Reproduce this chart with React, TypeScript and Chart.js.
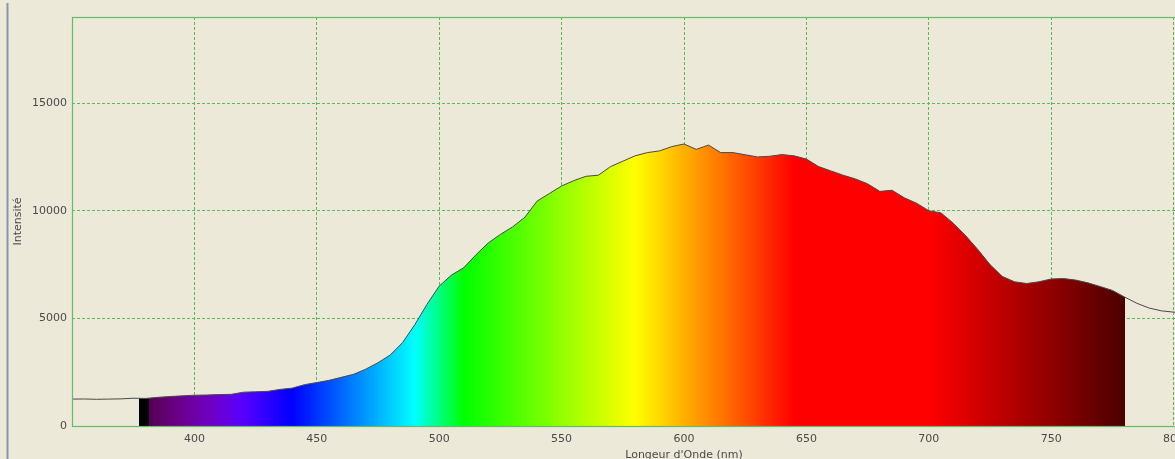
import React, { useEffect, useRef } from 'react';
import { Chart, registerables } from 'chart.js';

Chart.register(...registerables);

// ---- data ----
const WAVELENGTHS = [
  350, 355, 360, 365, 370, 375, 380, 385, 390, 395,
  400, 405, 410, 415, 420, 425, 430, 435, 440, 445,
  450, 455, 460, 465, 470, 475, 480, 485, 490, 495,
  500, 505, 510, 515, 520, 525, 530, 535, 540, 545,
  550, 555, 560, 565, 570, 575, 580, 585, 590, 595,
  600, 605, 610, 615, 620, 625, 630, 635, 640, 645,
  650, 655, 660, 665, 670, 675, 680, 685, 690, 695,
  700, 705, 710, 715, 720, 725, 730, 735, 740, 745,
  750, 755, 760, 765, 770, 775, 780, 785, 790, 795,
  800, 805,
];
const INTENSITY = [
  1250, 1255, 1240, 1250, 1260, 1290, 1280, 1330, 1370, 1400,
  1430, 1440, 1460, 1470, 1570, 1590, 1610, 1700, 1760, 1920,
  2020, 2120, 2260, 2400, 2640, 2940, 3300, 3870, 4700, 5650,
  6500, 7010, 7350, 7950, 8500, 8900, 9250, 9700, 10450, 10800,
  11150, 11400, 11600, 11650, 12050, 12300, 12550, 12700, 12780, 12980,
  13100, 12850, 13050, 12700, 12700, 12600, 12500, 12530, 12610, 12550,
  12400, 12050, 11850, 11650, 11480, 11250, 10900, 10950, 10600, 10350,
  10000, 9900, 9420, 8850, 8200, 7500, 6950, 6700, 6620, 6700,
  6830, 6850, 6780, 6650, 6480, 6300, 5990, 5700, 5480, 5350,
  5290, 5250,
];
const X_TICKS = [400, 450, 500, 550, 600, 650, 700, 750, 800];
const Y_TICKS = [0, 5000, 10000, 15000];
const X_MIN = 350;
const X_MAX = 850;
const Y_MAX = 19000;
const FILL_START = 377.5;
const BLACK_END = 381.5;
const FILL_END = 780;

const X_TITLE = "Longeur d'Onde (nm)";
const Y_TITLE = 'Intensité';

// visible-spectrum colour for a wavelength
function spectrumColor(w: number): string {
  let r = 0, g = 0, b = 0;
  if (w < 440) { r = -(w - 440) / 60; b = 1; }
  else if (w < 490) { g = (w - 440) / 50; b = 1; }
  else if (w < 510) { g = 1; b = -(w - 510) / 20; }
  else if (w < 580) { r = (w - 510) / 70; g = 1; }
  else if (w < 645) { r = 1; g = -(w - 645) / 65; }
  else { r = 1; }
  let f = 1;
  if (w < 420) f = 0.3 + 0.7 * (w - 380) / 40;
  else if (w > 700) f = 0.3 + 0.7 * (780 - w) / 80;
  const c = (v: number) => Math.max(0, Math.min(255, Math.round(255 * v * f)));
  return `rgb(${c(r)},${c(g)},${c(b)})`;
}

const BG = '#ECE9D8';
const GREEN = '#5cb85c';
const TEXT = '#4a4a4a';
const FONT = 'DejaVu Sans';

export default function App() {
  const ref = useRef<HTMLCanvasElement>(null);

  useEffect(() => {
    const canvas = ref.current;
    if (!canvas) return;

    const framePlugin = {
      id: 'frame',
      beforeDraw(chart: any) {
        const ctx = chart.ctx;
        ctx.save();
        ctx.fillStyle = BG;
        ctx.fillRect(0, 0, chart.width, chart.height);
        ctx.restore();
      },
      afterDatasetsDraw(chart: any) {
        const ctx = chart.ctx;
        const a = chart.chartArea;
        ctx.save();
        ctx.strokeStyle = '#66bb66';
        ctx.lineWidth = 1.2;
        ctx.setLineDash([]);
        ctx.strokeRect(Math.round(a.left) + 0.5, Math.round(a.top) + 0.5, a.right - a.left, a.bottom - a.top);
        ctx.fillStyle = '#8397b0';
        ctx.fillRect(6.5, 3, 2, chart.height);
        ctx.restore();
      },
    };

    const points = WAVELENGTHS.map((w, i) => ({ x: w, y: INTENSITY[i] }));

    const chart = new Chart(canvas, {
      type: 'line',
      data: {
        datasets: [
          {
            data: points,
            borderColor: '#4a4a4a',
            borderWidth: 1,
            pointRadius: 0,
            tension: 0,
            fill: 'origin',
            backgroundColor: (ctx: any) => {
              const ch = ctx.chart;
              const xs = ch.scales.x;
              if (!ch.chartArea || !xs) return 'transparent';
              const p0 = xs.getPixelForValue(X_MIN);
              const p1 = xs.getPixelForValue(X_MAX);
              const g = ch.ctx.createLinearGradient(p0, 0, p1, 0);
              const t = (w: number) => (w - X_MIN) / (X_MAX - X_MIN);
              g.addColorStop(0, 'rgba(0,0,0,0)');
              g.addColorStop(t(FILL_START) - 0.00001, 'rgba(0,0,0,0)');
              g.addColorStop(t(FILL_START), '#000000');
              g.addColorStop(t(BLACK_END) - 0.00001, '#000000');
              for (let w = BLACK_END; w <= FILL_END; w += 1) {
                g.addColorStop(t(w), spectrumColor(w));
              }
              g.addColorStop(t(FILL_END), spectrumColor(FILL_END));
              g.addColorStop(t(FILL_END) + 0.00001, 'rgba(0,0,0,0)');
              g.addColorStop(1, 'rgba(0,0,0,0)');
              return g;
            },
          },
        ],
      },
      options: {
        responsive: false,
        animation: false,
        events: [],
        layout: { padding: { left: 0, top: 17, right: 4, bottom: 0 } },
        plugins: { legend: { display: false }, tooltip: { enabled: false } },
        scales: {
          x: {
            type: 'linear',
            min: X_MIN,
            max: X_MAX,
            afterBuildTicks: (s: any) => { s.ticks = X_TICKS.map((v) => ({ value: v })); },
            afterFit: (s: any) => { s.height = 40; },
            border: { display: false, dash: [3, 2] },
            grid: { color: GREEN, lineWidth: 1, drawTicks: false },
            ticks: {
              color: TEXT,
              font: { family: FONT, size: 11 },
              padding: 7,
              maxRotation: 0,
              autoSkip: false,
              callback: (v: any) => String(v),
            },
            title: {
              display: true,
              text: X_TITLE,
              color: TEXT,
              font: { family: FONT, size: 11 },
              padding: { top: 0, bottom: 4 },
            },
          },
          y: {
            type: 'linear',
            min: 0,
            max: Y_MAX,
            afterBuildTicks: (s: any) => { s.ticks = Y_TICKS.map((v) => ({ value: v })); },
            afterFit: (s: any) => { s.width = 72; },
            border: { display: false, dash: [3, 2] },
            grid: { color: GREEN, lineWidth: 1, drawTicks: false },
            ticks: {
              color: TEXT,
              font: { family: FONT, size: 11 },
              padding: 5,
              callback: (v: any) => String(v),
            },
            title: {
              display: true,
              text: Y_TITLE,
              color: TEXT,
              font: { family: FONT, size: 11 },
              padding: { top: 12, bottom: 0 },
            },
          },
        },
      },
      plugins: [framePlugin],
    } as any);

    return () => chart.destroy();
  }, []);

  return (
    <div style={{ position: 'fixed', left: 0, top: 0, width: 1300, height: 466, overflow: 'hidden', background: BG }}>
      <canvas ref={ref} width={1300} height={466} style={{ display: 'block', width: 1300, height: 466 }} />
    </div>
  );
}
